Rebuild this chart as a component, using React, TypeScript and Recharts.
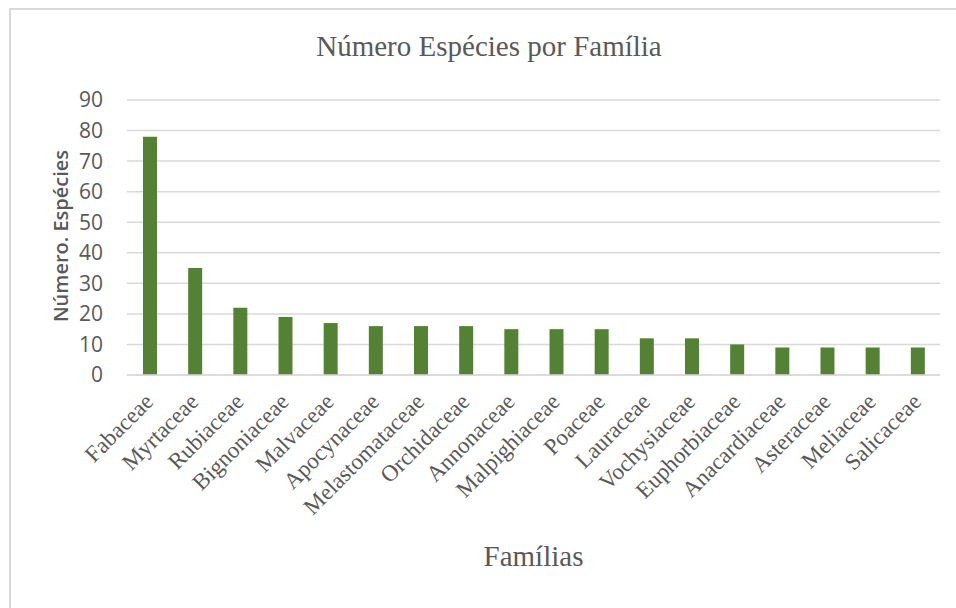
import React from "react";
import { BarChart, Bar, XAxis, YAxis, CartesianGrid } from "recharts";

const familias = [
  "Fabaceae",
  "Myrtaceae",
  "Rubiaceae",
  "Bignoniaceae",
  "Malvaceae",
  "Apocynaceae",
  "Melastomataceae",
  "Orchidaceae",
  "Annonaceae",
  "Malpighiaceae",
  "Poaceae",
  "Lauraceae",
  "Vochysiaceae",
  "Euphorbiaceae",
  "Anacardiaceae",
  "Asteraceae",
  "Meliaceae",
  "Salicaceae",
];
const especies = [78, 35, 22, 19, 17, 16, 16, 16, 15, 15, 15, 12, 12, 10, 9, 9, 9, 9];
const yTicks = [0, 10, 20, 30, 40, 50, 60, 70, 80, 90];

const data = familias.map((f, i) => ({ familia: f, n: especies[i] }));

const grey = "#595959";

const FamilyTick = ({ x, y, payload }: any) => {
  const ax = x + 5;
  const ay = y + 28;
  return (
    <text
      x={ax}
      y={ay}
      transform={`rotate(-45, ${ax}, ${ay})`}
      textAnchor="end"
      fontFamily="'Liberation Serif', serif"
      fontSize={23}
      fill={grey}
    >
      {payload.value}
    </text>
  );
};

export default function App() {
  return (
    <div
      style={{
        position: "absolute",
        left: 0,
        top: 0,
        width: 956,
        height: 608,
        background: "#fff",
        overflow: "hidden",
      }}
    >
      <div
        style={{
          position: "absolute",
          left: 9,
          top: 8,
          width: 980,
          height: 640,
          border: "2px solid #d9d9d9",
        }}
      />
      <div
        style={{
          position: "absolute",
          left: 0,
          width: 978,
          top: 30,
          textAlign: "center",
          fontFamily: "'Liberation Serif', serif",
          fontSize: 29,
          color: grey,
        }}
      >
        Número Espécies por Família
      </div>
      <div
        style={{
          position: "absolute",
          left: 127,
          width: 813,
          top: 540,
          textAlign: "center",
          fontFamily: "'Liberation Serif', serif",
          fontSize: 29,
          color: grey,
        }}
      >
        Famílias
      </div>
      <div
        style={{
          position: "absolute",
          left: 60,
          top: 236,
          transform: "translate(-50%, -50%) rotate(-90deg)",
          whiteSpace: "nowrap",
          fontFamily: "'Open Sans', sans-serif",
          fontWeight: 600,
          fontSize: 20,
          color: grey,
        }}
      >
        Número. Espécies
      </div>
      <BarChart
        width={956}
        height={608}
        data={data}
        margin={{ top: 100, right: 16, left: 0, bottom: 0 }}
        style={{ position: "absolute", left: 0, top: 0 }}
      >
        <CartesianGrid vertical={false} stroke="#d9d9d9" strokeWidth={1.5} />
        <XAxis
          dataKey="familia"
          interval={0}
          height={233}
          tickSize={0}
          tickMargin={0}
          axisLine={{ stroke: "#d9d9d9", strokeWidth: 1.5 }}
          tickLine={false}
          tick={<FamilyTick />}
        />
        <YAxis
          width={127}
          domain={[0, 90]}
          ticks={yTicks}
          interval={0}
          axisLine={false}
          tickLine={false}
          tickMargin={18}
          tick={{ fill: grey, fontSize: 21, fontFamily: "'Open Sans', sans-serif" }}
        />
        <Bar dataKey="n" fill="#548235" barSize={14} isAnimationActive={false} />
      </BarChart>
    </div>
  );
}
